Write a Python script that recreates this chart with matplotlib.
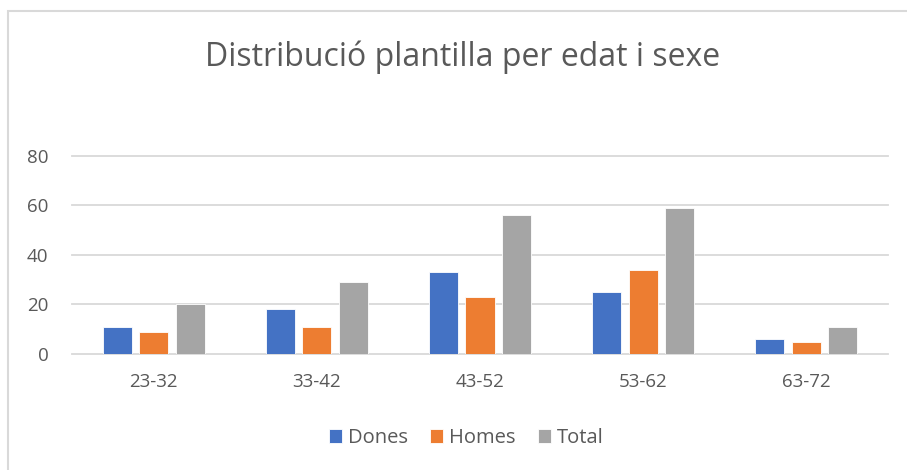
import matplotlib
matplotlib.use("Agg")
import matplotlib.pyplot as plt
import numpy as np
from matplotlib.patches import Rectangle

plt.rcParams['font.family'] = ['Open Sans', 'DejaVu Sans']

# dades
categories = ["23-32", "33-42", "43-52", "53-62", "63-72"]
dones = [11, 18, 33, 25, 6]
homes = [9, 11, 23, 34, 5]
total = [20, 29, 56, 59, 11]

series = [("Dones", dones, "#4472C4"), ("Homes", homes, "#ED7D31"), ("Total", total, "#A5A5A5")]

W, H = 907, 470
fig = plt.figure(figsize=(W / 100, H / 100), dpi=100)
ax = fig.add_axes([72 / W, 1 - 354 / H, (888 - 72) / W, (354 - 155.7) / H])

x = np.arange(len(categories))
bw = 0.178
step = 0.224
for i, (name, vals, col) in enumerate(series):
    ax.bar(x + (i - 1) * step, vals, width=bw, color=col, label=name,
           edgecolor="white", linewidth=0.6, zorder=3)

ax.set_xlim(-0.5, len(categories) - 0.5)
ax.set_ylim(0, 80)
ax.set_yticks([0, 20, 40, 60, 80])
ax.set_xticks(x)
ax.set_xticklabels(categories)
ax.grid(axis="y", color="#D9D9D9", linewidth=1.3, zorder=0)
for gl in ax.get_ygridlines():
    gl.set_clip_on(False)
ax.set_axisbelow(True)
for s in ax.spines.values():
    s.set_visible(False)
ax.tick_params(axis="both", length=0, labelsize=13.5, colors="#595959")
ax.tick_params(axis="y", pad=17)
ax.tick_params(axis="x", pad=14)

fig.text(463 / W, 1 - 57 / H, "Distribució plantilla per edat i sexe",
         ha="center", va="center", fontsize=23, color="#595959")

fig.legend(loc="center", bbox_to_anchor=(466 / W, 1 - 438 / H), ncol=3, frameon=False,
           fontsize=14.5, labelcolor="#595959", handlelength=0.65, handleheight=0.65,
           handletextpad=0.3, columnspacing=1.1)

fig.patches.append(Rectangle((8 / W, -0.1), 1.2, 1 - 11 / H + 0.1, transform=fig.transFigure,
                             fill=False, edgecolor="#D9D9D9", linewidth=1.5))

fig.savefig("out.png", dpi=100)
